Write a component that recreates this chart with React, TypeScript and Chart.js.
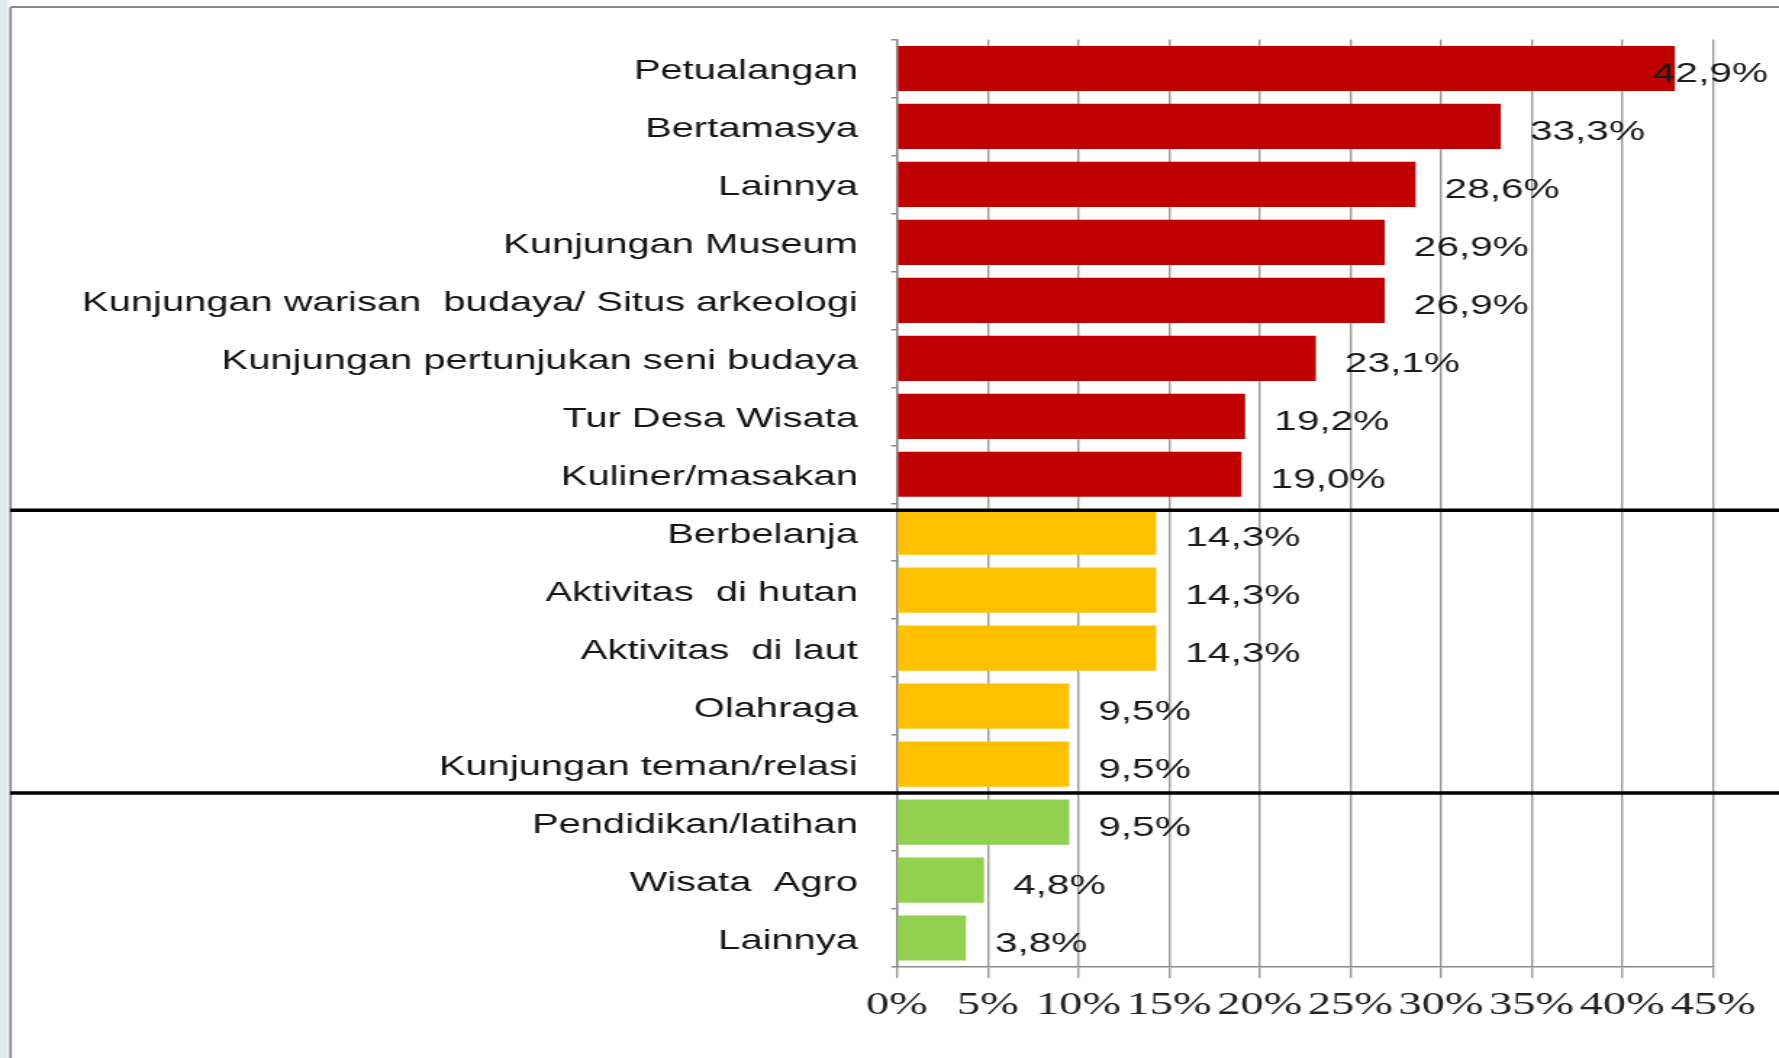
import React, { useEffect, useRef } from 'react';
import { Chart, registerables } from 'chart.js';

Chart.register(...registerables);

// ---------- data ----------
const categories: string[] = [
  'Petualangan',
  'Bertamasya',
  'Lainnya',
  'Kunjungan Museum',
  'Kunjungan warisan  budaya/ Situs arkeologi',
  'Kunjungan pertunjukan seni budaya',
  'Tur Desa Wisata',
  'Kuliner/masakan',
  'Berbelanja',
  'Aktivitas  di hutan',
  'Aktivitas  di laut',
  'Olahraga',
  'Kunjungan teman/relasi',
  'Pendidikan/latihan',
  'Wisata  Agro',
  'Lainnya',
];
const values: number[] = [42.9, 33.3, 28.6, 26.9, 26.9, 23.1, 19.2, 19.0, 14.3, 14.3, 14.3, 9.5, 9.5, 9.5, 4.8, 3.8];
const groups: number[] = [0, 0, 0, 0, 0, 0, 0, 0, 1, 1, 1, 1, 1, 2, 2, 2];
const xMin = 0;
const xMax = 45;
const xStep = 5;

// ---------- style ----------
const groupColors = ['#C00000', '#FFC000', '#92D050'];
const sepOffsets = [7, 0];
const VIEW_W = 1779;
const VIEW_H = 1058;
const CANVAS_W = 1227; // picture is horizontally stretched
const SX = VIEW_W / CANVAS_W;
const lx = (v: number) => v / SX;

const fmt = (v: number) => v.toFixed(1).replace('.', ',') + '%';

const framePlugin = {
  id: 'frame',
  beforeDraw(chart: any) {
    const { ctx, width, height } = chart;
    ctx.save();
    ctx.fillStyle = '#ffffff';
    ctx.fillRect(0, 0, width, height);
    ctx.fillStyle = '#e3e9eb';
    ctx.fillRect(0, 0, lx(8), height);
    ctx.strokeStyle = '#8c8c8c';
    ctx.lineWidth = lx(2.5);
    ctx.beginPath();
    ctx.moveTo(lx(10.5), height);
    ctx.lineTo(lx(10.5), 7);
    ctx.stroke();
    ctx.lineWidth = 2;
    ctx.beginPath();
    ctx.moveTo(lx(10.5), 7);
    ctx.lineTo(width, 7);
    ctx.stroke();
    ctx.restore();
  },
};

const separatorPlugin = {
  id: 'separators',
  afterDatasetsDraw(chart: any) {
    const { ctx, width } = chart;
    const ys = chart.scales.y;
    ctx.save();
    ctx.strokeStyle = '#000000';
    ctx.lineWidth = 3.5;
    let k = 0;
    for (let i = 1; i < groups.length; i++) {
      if (groups[i] !== groups[i - 1]) {
        const py = (ys.getPixelForValue(i - 1) + ys.getPixelForValue(i)) / 2 + (sepOffsets[k] || 0);
        k++;
        ctx.beginPath();
        ctx.moveTo(lx(10), py);
        ctx.lineTo(width, py);
        ctx.stroke();
      }
    }
    ctx.restore();
  },
};

const valueLabelPlugin = {
  id: 'valueLabels',
  afterDatasetsDraw(chart: any) {
    const { ctx } = chart;
    const meta = chart.getDatasetMeta(0);
    ctx.save();
    ctx.font = '28px "Liberation Sans", Arial, sans-serif';
    ctx.fillStyle = '#1a1a1a';
    ctx.textBaseline = 'middle';
    ctx.textAlign = 'left';
    const limit = lx(1768);
    meta.data.forEach((bar: any, i: number) => {
      const txt = fmt(values[i]);
      const w = ctx.measureText(txt).width;
      let x = bar.x + lx(29);
      if (x + w > limit) x = limit - w;
      ctx.fillText(txt, x, bar.y + 6);
    });
    ctx.restore();
  },
};

export default function App() {
  const canvasRef = useRef<HTMLCanvasElement | null>(null);

  useEffect(() => {
    const canvas = canvasRef.current;
    if (!canvas) return;
    const chart = new Chart(canvas, {
      type: 'bar',
      data: {
        labels: categories,
        datasets: [
          {
            data: values,
            backgroundColor: groups.map((g) => groupColors[g]),
            borderWidth: 0,
            barPercentage: 0.78,
            categoryPercentage: 1,
          },
        ],
      },
      options: {
        indexAxis: 'y',
        responsive: false,
        animation: false,
        devicePixelRatio: 1,
        layout: { padding: { top: 38, right: CANVAS_W - lx(1713), bottom: 0, left: 0 } },
        plugins: {
          legend: { display: false },
          tooltip: { enabled: false },
          title: { display: false },
        },
        scales: {
          x: {
            type: 'linear',
            min: xMin,
            max: xMax,
            ticks: {
              stepSize: xStep,
              callback: (v: any) => v + '%',
              font: { family: '"Liberation Serif", "Times New Roman", serif', size: 32 },
              color: '#222222',
              padding: 8,
              maxRotation: 0,
              autoSkip: false,
            },
            grid: {
              color: '#9a9a9a',
              lineWidth: 1.4,
              tickLength: 11,
              drawTicks: true,
            },
            border: { color: '#8a8a8a', width: 1.6 },
            afterFit: (scale: any) => {
              scale.height = VIEW_H - 967;
            },
          },
          y: {
            type: 'category',
            ticks: {
              font: { family: '"Liberation Sans", Arial, sans-serif', size: 27.5 },
              color: '#151515',
              padding: 23,
              labelOffset: 3,
              autoSkip: false,
            },
            grid: {
              drawOnChartArea: false,
              drawTicks: true,
              tickLength: 4,
              color: '#8a8a8a',
              lineWidth: 1.5,
            },
            border: { color: '#8a8a8a', width: 1.4 },
            afterFit: (scale: any) => {
              scale.width = lx(897);
            },
          },
        },
      },
      plugins: [framePlugin, separatorPlugin, valueLabelPlugin],
    } as any);
    return () => chart.destroy();
  }, []);

  return (
    <div style={{ position: 'fixed', left: 0, top: 0, width: VIEW_W, height: VIEW_H, background: '#fff' }}>
      <canvas
        ref={canvasRef}
        width={CANVAS_W}
        height={VIEW_H}
        style={{ width: VIEW_W + 'px', height: VIEW_H + 'px', display: 'block' }}
      />
    </div>
  );
}
